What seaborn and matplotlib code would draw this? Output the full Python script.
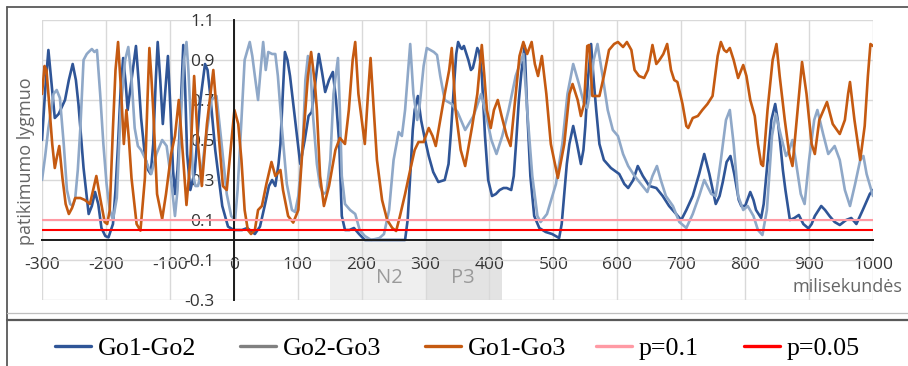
import matplotlib
matplotlib.use("Agg")
import matplotlib.pyplot as plt
import seaborn as sns
import pandas as pd
from matplotlib.lines import Line2D

# ---------------- data ----------------
ms_go12 = [-300, -295, -290, -285, -280, -274, -264, -258, -252, -247, -243, -235, -227, -222, -217, -212,
           -207, -201, -196, -189, -185, -181, -177, -173, -169, -166, -160, -153, -149, -145, -139, -134,
           -130, -126, -122, -119, -115, -111, -107, -103, -99, -95, -92, -88, -84, -79, -76, -73, -68, -61,
           -53, -45, -41, -37, -29, -18, -9, 0, 13, 21, 33, 41, 49, 55, 60, 65, 70, 73, 77, 80, 84, 88, 96,
           104, 111, 117, 122, 128, 133, 138, 143, 149, 155, 160, 165, 169, 174, 181, 188, 196, 205, 268, 272,
           276, 280, 283, 288, 293, 298, 305, 312, 320, 330, 336, 340, 344, 348, 351, 355, 357, 360, 364, 367,
           371, 374, 377, 381, 384, 388, 393, 398, 404, 410, 416, 422, 427, 434, 438, 442, 446, 450, 455, 459,
           464, 470, 478, 488, 498, 509, 513, 517, 521, 525, 531, 537, 543, 547, 550, 554, 559, 563, 567, 572,
           579, 590, 603, 611, 617, 625, 632, 640, 650, 661, 671, 681, 692, 700, 708, 718, 728, 736, 744, 754,
           760, 765, 771, 777, 783, 790, 794, 800, 808, 813, 817, 825, 829, 833, 837, 841, 847, 851, 855, 859,
           863, 870, 877, 884, 891, 899, 904, 909, 919, 925, 932, 940, 948, 958, 966, 974, 984, 995, 1000]
val_go12 = [0.50, 0.75, 0.95, 0.78, 0.61, 0.63, 0.70, 0.80, 0.88, 0.80, 0.68, 0.36, 0.13, 0.17, 0.24, 0.18,
            0.06, 0.02, 0.013, 0.08, 0.25, 0.48, 0.75, 0.91, 0.78, 0.65, 0.80, 0.97, 0.80, 0.61, 0.42, 0.35,
            0.33, 0.48, 0.80, 0.99, 0.80, 0.58, 0.75, 0.92, 0.65, 0.35, 0.23, 0.35, 0.58, 0.975, 0.75, 0.43,
            0.25, 0.34, 0.68, 0.88, 0.85, 0.73, 0.45, 0.17, 0.067, 0.05, 0.05, 0.06, 0.03, 0.067, 0.18, 0.27,
            0.30, 0.27, 0.38, 0.48, 0.75, 0.94, 0.90, 0.82, 0.60, 0.38, 0.50, 0.62, 0.64, 0.80, 0.93, 0.84,
            0.74, 0.80, 0.84, 0.70, 0.48, 0.12, 0.05, 0.05, 0.06, 0.03, 0.0, 0.0, 0.10, 0.32, 0.55, 0.65, 0.72,
            0.60, 0.52, 0.42, 0.34, 0.29, 0.30, 0.38, 0.55, 0.75, 0.93, 0.99, 0.96, 0.955, 0.97, 0.93, 0.90,
            0.85, 0.86, 0.90, 0.96, 0.94, 0.83, 0.52, 0.30, 0.22, 0.23, 0.25, 0.26, 0.26, 0.25, 0.32, 0.50,
            0.70, 0.84, 0.97, 0.65, 0.32, 0.12, 0.06, 0.04, 0.03, 0.01, 0.08, 0.23, 0.38, 0.48, 0.57, 0.48,
            0.38, 0.45, 0.57, 0.80, 0.98, 0.80, 0.65, 0.48, 0.40, 0.36, 0.33, 0.28, 0.26, 0.30, 0.37, 0.32,
            0.27, 0.26, 0.22, 0.17, 0.13, 0.10, 0.15, 0.22, 0.33, 0.43, 0.33, 0.18, 0.22, 0.29, 0.39, 0.42,
            0.33, 0.20, 0.17, 0.17, 0.24, 0.20, 0.15, 0.11, 0.18, 0.32, 0.46, 0.60, 0.68, 0.60, 0.48, 0.35,
            0.25, 0.10, 0.11, 0.125, 0.08, 0.058, 0.08, 0.12, 0.17, 0.15, 0.12, 0.09, 0.075, 0.10, 0.11, 0.08,
            0.15, 0.23, 0.25]

ms_go23 = [-300, -295, -290, -282, -277, -272, -266, -261, -256, -252, -248, -244, -240, -235, -230, -227,
           -222, -218, -214, -209, -204, -199, -194, -189, -183, -177, -170, -165, -160, -155, -150, -145,
           -139, -133, -129, -121, -112, -105, -98, -92, -88, -83, -78, -74, -71, -68, -64, -60, -56, -50,
           -45, -35, -27, -19, -11, -4, 2, 6, 10, 17, 25, 29, 33, 38, 42, 46, 50, 54, 60, 65, 69, 75, 83, 91,
           96, 101, 108, 112, 116, 120, 124, 130, 135, 140, 145, 151, 156, 163, 166, 169, 174, 182, 190, 197,
           205, 215, 228, 235, 243, 250, 258, 263, 268, 274, 276, 281, 287, 291, 297, 302, 313, 318, 323, 330,
           341, 350, 362, 375, 387, 395, 403, 411, 420, 430, 441, 453, 459, 467, 475, 480, 490, 504, 514, 522,
           531, 540, 548, 553, 558, 563, 569, 577, 585, 593, 601, 609, 617, 627, 637, 647, 655, 662, 668, 676,
           687, 697, 708, 718, 728, 736, 747, 754, 762, 770, 776, 782, 789, 797, 804, 813, 820, 827, 834, 842,
           848, 856, 864, 869, 874, 879, 887, 893, 900, 908, 913, 922, 930, 940, 948, 956, 964, 972, 980, 985,
           990, 1000]
val_go23 = [0.30, 0.42, 0.56, 0.73, 0.75, 0.71, 0.48, 0.25, 0.18, 0.17, 0.21, 0.35, 0.56, 0.90, 0.93, 0.94,
            0.955, 0.94, 0.95, 0.73, 0.48, 0.28, 0.15, 0.10, 0.21, 0.65, 0.90, 0.965, 0.81, 0.56, 0.47, 0.45,
            0.41, 0.36, 0.33, 0.43, 0.50, 0.47, 0.30, 0.12, 0.25, 0.60, 0.90, 0.99, 0.85, 0.65, 0.33, 0.27,
            0.27, 0.35, 0.48, 0.70, 0.72, 0.48, 0.23, 0.12, 0.10, 0.25, 0.48, 0.90, 0.99, 0.92, 0.82, 0.70,
            0.85, 0.99, 0.85, 0.94, 0.93, 0.93, 0.82, 0.57, 0.28, 0.15, 0.14, 0.22, 0.48, 0.80, 0.92, 0.85,
            0.62, 0.38, 0.27, 0.23, 0.24, 0.40, 0.73, 0.91, 0.65, 0.32, 0.18, 0.15, 0.13, 0.05, 0.02, 0.0,
            0.01, 0.03, 0.15, 0.40, 0.54, 0.52, 0.65, 0.90, 0.98, 0.73, 0.60, 0.68, 0.87, 0.96, 0.94, 0.925,
            0.82, 0.70, 0.68, 0.64, 0.55, 0.62, 0.73, 0.62, 0.50, 0.43, 0.52, 0.65, 0.82, 0.93, 0.65, 0.32,
            0.12, 0.09, 0.13, 0.28, 0.48, 0.73, 0.88, 0.78, 0.68, 0.66, 0.75, 0.90, 0.98, 0.82, 0.65, 0.55,
            0.52, 0.43, 0.37, 0.32, 0.28, 0.24, 0.32, 0.37, 0.30, 0.22, 0.17, 0.09, 0.06, 0.13, 0.22, 0.30,
            0.23, 0.22, 0.40, 0.60, 0.65, 0.48, 0.22, 0.15, 0.17, 0.12, 0.05, 0.025, 0.15, 0.52, 0.63, 0.52,
            0.42, 0.45, 0.50, 0.40, 0.23, 0.18, 0.40, 0.60, 0.65, 0.53, 0.43, 0.47, 0.40, 0.25, 0.17, 0.28,
            0.40, 0.42, 0.33, 0.22]

ms_go13 = [-300, -296, -293, -290, -284, -280, -277, -273, -268, -263, -258, -253, -248, -240, -233, -225,
           -220, -215, -209, -202, -198, -194, -189, -185, -181, -176, -172, -168, -164, -160, -152, -146,
           -139, -135, -132, -129, -126, -120, -112, -106, -98, -92, -86, -79, -74, -68, -62, -56, -50, -42,
           -32, -25, -17, -11, -4, 1, 7, 12, 17, 22, 27, 33, 38, 44, 51, 59, 65, 73, 77, 85, 93, 101, 108, 116,
           121, 127, 130, 135, 141, 149, 159, 166, 174, 180, 186, 190, 195, 205, 210, 214, 219, 224, 232, 240,
           248, 254, 260, 268, 276, 283, 289, 297, 305, 311, 316, 323, 330, 337, 341, 347, 355, 362, 373, 381,
           388, 392, 396, 402, 407, 413, 419, 427, 433, 441, 447, 453, 459, 466, 471, 476, 482, 489, 496, 507,
           517, 525, 530, 538, 543, 548, 553, 556, 561, 572, 579, 587, 595, 601, 609, 615, 622, 627, 634, 642,
           648, 655, 661, 666, 672, 678, 684, 689, 694, 702, 708, 711, 718, 726, 733, 741, 749, 757, 762, 767,
           771, 776, 782, 789, 797, 802, 808, 815, 820, 825, 828, 835, 843, 849, 854, 862, 869, 874, 882, 889,
           896, 904, 909, 916, 928, 937, 948, 956, 961, 964, 971, 980, 987, 992, 996, 1000]
val_go13 = [0.73, 0.87, 0.85, 0.73, 0.48, 0.36, 0.41, 0.47, 0.31, 0.18, 0.13, 0.16, 0.21, 0.21, 0.20, 0.18,
            0.25, 0.32, 0.21, 0.09, 0.08, 0.15, 0.56, 0.85, 0.99, 0.73, 0.48, 0.65, 0.50, 0.31, 0.08, 0.047,
            0.31, 0.70, 0.96, 0.82, 0.65, 0.23, 0.105, 0.23, 0.43, 0.52, 0.70, 0.40, 0.175, 0.40, 0.82, 0.48,
            0.27, 0.58, 0.85, 0.58, 0.27, 0.25, 0.48, 0.65, 0.58, 0.40, 0.15, 0.05, 0.03, 0.05, 0.15, 0.17,
            0.28, 0.39, 0.32, 0.35, 0.25, 0.12, 0.087, 0.15, 0.48, 0.82, 0.94, 0.78, 0.65, 0.32, 0.17, 0.27,
            0.45, 0.51, 0.48, 0.65, 0.90, 0.99, 0.73, 0.48, 0.73, 0.91, 0.65, 0.40, 0.20, 0.10, 0.06, 0.045,
            0.12, 0.23, 0.35, 0.45, 0.49, 0.49, 0.56, 0.52, 0.47, 0.60, 0.73, 0.85, 0.96, 0.65, 0.45, 0.37,
            0.57, 0.73, 0.975, 0.82, 0.65, 0.56, 0.65, 0.70, 0.62, 0.52, 0.47, 0.73, 0.92, 0.99, 0.93, 0.99,
            0.88, 0.82, 0.92, 0.73, 0.48, 0.31, 0.48, 0.73, 0.78, 0.70, 0.62, 0.68, 0.97, 0.975, 0.72, 0.72,
            0.82, 0.95, 0.98, 0.99, 0.965, 0.99, 0.95, 0.85, 0.82, 0.81, 0.85, 0.975, 0.88, 0.90, 0.93, 0.98,
            0.85, 0.80, 0.79, 0.68, 0.57, 0.56, 0.61, 0.62, 0.65, 0.68, 0.72, 0.92, 0.99, 0.95, 0.94, 0.96,
            0.90, 0.81, 0.875, 0.82, 0.70, 0.62, 0.48, 0.38, 0.37, 0.65, 0.90, 0.98, 0.82, 0.60, 0.43, 0.37,
            0.65, 0.89, 0.73, 0.48, 0.43, 0.60, 0.69, 0.58, 0.53, 0.60, 0.73, 0.79, 0.60, 0.40, 0.57, 0.82,
            0.98, 0.97]

series_names = ["Go1-Go2", "Go2-Go3", "Go1-Go3"]
plot_colors = {"Go1-Go2": "#2F5597", "Go2-Go3": "#8FA8C8", "Go1-Go3": "#C55A11"}

p_labels = ["p=0.1", "p=0.05"]
p_values = [0.1, 0.05]
p_colors = ["#FF9AA4", "#FF0000"]

legend_labels = series_names + p_labels
legend_colors = ["#2F5597", "#808080", "#C55A11", "#FF9AA4", "#FF0000"]

x_ticks = list(range(-300, 1001, 100))
x_tick_labels = [str(v) for v in x_ticks]
y_ticks = [-0.3, -0.1, 0.1, 0.3, 0.5, 0.7, 0.9, 1.1]
y_tick_labels = ["-0.3", "-0.1", "0.1", "0.3", "0.5", "0.7", "0.9", "1.1"]

components = ["N2", "P3"]
comp_start = [150, 300]
comp_end = [300, 420]
comp_label_x = [244, 358]
comp_colors = ["#EFEFEF", "#E3E3E3"]

# ---------------- figure ----------------
sns.set_theme(style="white")
plt.rcParams["font.family"] = ["Open Sans", "DejaVu Sans"]

W, H = 908, 366
fig = plt.figure(figsize=(W / 100, H / 100), dpi=100)
fig.patch.set_facecolor("white")
ax = fig.add_axes([42 / W, 1 - 300 / H, (873 - 42) / W, 280 / H])
ax.set_facecolor("white")

df = pd.concat([
    pd.DataFrame({"ms": ms_go12, "value": val_go12, "series": "Go1-Go2"}),
    pd.DataFrame({"ms": ms_go23, "value": val_go23, "series": "Go2-Go3"}),
    pd.DataFrame({"ms": ms_go13, "value": val_go13, "series": "Go1-Go3"}),
], ignore_index=True)

# component windows
for name, s, e, lx, c in zip(components, comp_start, comp_end, comp_label_x, comp_colors):
    ax.fill_between([s, e], -0.3, 0, color=c, zorder=0.2, linewidth=0)
    ax.text(lx, -0.19, name, ha="center", va="center", fontsize=14.5, color="#9A9A9A", zorder=0.3)

sns.lineplot(data=df, x="ms", y="value", hue="series", hue_order=series_names,
             palette=plot_colors, estimator=None, sort=False, legend=False,
             linewidth=1.9, ax=ax)
for ln in ax.lines:
    ln.set_solid_joinstyle("round")
    ln.set_solid_capstyle("round")

for pv, pc in zip(p_values, p_colors):
    ax.axhline(pv, color=pc, linewidth=1.5, zorder=3)

ax.set_xlim(-300, 1000)
ax.set_ylim(-0.3, 1.1)
ax.set_xticks(x_ticks)
ax.set_xticklabels(x_tick_labels)
ax.set_yticks(y_ticks)
ax.set_yticklabels(y_tick_labels)
ax.set_axisbelow(True)
ax.grid(True, color="#D9D9D9", linewidth=1.0)

for side in ["top", "right"]:
    ax.spines[side].set_visible(False)
ax.spines["left"].set_position(("data", 0))
ax.spines["bottom"].set_position(("data", 0))
for side in ["left", "bottom"]:
    ax.spines[side].set_color("#1A1A1A")
    ax.spines[side].set_linewidth(1.4)
    ax.spines[side].set_zorder(2.6)

ax.tick_params(axis="x", direction="inout", length=8.6, width=1.4, color="#1A1A1A",
               pad=8, labelsize=12.5, labelcolor="#333333")
ax.tick_params(axis="y", direction="out", length=4.3, width=1.4, color="#1A1A1A",
               pad=9.5, labelsize=12.5, labelcolor="#333333")
ax.set_xlabel("")
ax.set_ylabel("")

fig.text(902 / W, 1 - 287 / H, "milisekundės", ha="right", va="center",
         fontsize=13, color="#666666")
fig.text(26.5 / W, 1 - 161 / H, "patikimumo lygmuo", ha="center", va="center",
         rotation=90, fontsize=13, color="#666666")

# frame lines
def hline(py, x0, x1, color, lw):
    fig.add_artist(Line2D([x0 / W, x1 / W], [1 - py / H, 1 - py / H],
                          transform=fig.transFigure, color=color, linewidth=lw))

def vline(px, y0, y1, color, lw):
    fig.add_artist(Line2D([px / W, px / W], [1 - y0 / H, 1 - y1 / H],
                          transform=fig.transFigure, color=color, linewidth=lw))

hline(7, 6.5, W, "#595959", 1.3)
vline(6.5, 7, H, "#595959", 1.3)
hline(313, 6.5, W, "#BFBFBF", 0.9)
hline(320, 6.5, W, "#595959", 1.6)

# legend
leg_x = [55, 240, 425, 596, 744]
for lx, lab, col in zip(leg_x, legend_labels, legend_colors):
    fig.add_artist(Line2D([lx / W, (lx + 36) / W], [1 - 345.5 / H, 1 - 345.5 / H],
                          transform=fig.transFigure, color=col, linewidth=2.4))
    fig.text((lx + 43) / W, 1 - 355 / H, lab, ha="left", va="baseline",
             fontsize=18.7, family=["Liberation Serif", "DejaVu Serif"], color="#000000")

fig.savefig("out.png", dpi=100, facecolor="white")
